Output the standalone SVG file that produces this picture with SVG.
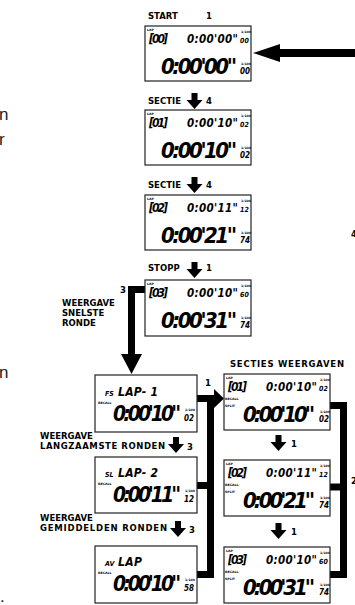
<svg xmlns="http://www.w3.org/2000/svg" width="355" height="605" viewBox="0 0 355 605">
<defs>
<style>
.bg{fill:#fff}
.box{fill:#fff;stroke:#222;stroke-width:1.2}
.lbl{font-family:"DejaVu Sans",sans-serif;font-weight:bold;font-size:8.5px;fill:#000}
.lcd{font-family:"DejaVu Sans Condensed","DejaVu Sans",sans-serif;font-weight:bold;font-style:italic;fill:#000}
.tiny{font-family:"DejaVu Sans",sans-serif;font-weight:bold;font-size:3.2px;fill:#000}
.frag{font-family:"Liberation Sans",Arial,sans-serif;font-size:17px;fill:#222}
.wire{fill:none;stroke:#000;stroke-width:7}
.head{fill:#000}
</style>
<path id="dn" d="M-3,0 H3 V7 H8 L0,16 L-8,7 H-3 Z" fill="#000"/>
</defs>
<rect class="bg" x="0" y="0" width="355" height="605"/>

<!-- stray text fragments at the edges -->
<text class="frag" x="-1" y="120">n</text>
<text class="frag" x="-1" y="145">r</text>
<text class="frag" x="-1" y="378">n</text>
<text class="frag" x="0" y="602">.</text>
<text class="lbl" x="351" y="237">4</text>
<text class="lbl" x="351" y="484">2</text>

<!-- labels -->
<g id="labels">
<text class="lbl" x="148" y="19">START</text><text class="lbl" x="206" y="19">1</text>
<text class="lbl" x="148" y="104">SECTIE</text><text class="lbl" x="206" y="104">4</text>
<text class="lbl" x="148" y="188">SECTIE</text><text class="lbl" x="206" y="188">4</text>
<text class="lbl" x="148" y="271">STOPP</text><text class="lbl" x="206" y="271">1</text>
<text class="lbl" x="126" y="293" text-anchor="end">3</text>
<text class="lbl" x="62" y="306">WEERGAVE</text>
<text class="lbl" x="62" y="316">SNELSTE</text>
<text class="lbl" x="62" y="326">RONDE</text>
<text class="lbl" x="230" y="367" textLength="114">SECTIES WEERGAVEN</text>
<text class="lbl" x="205" y="386">1</text>
<text class="lbl" x="40" y="439">WEERGAVE</text>
<text class="lbl" x="40" y="449" textLength="125">LANGZAAMSTE RONDEN</text>
<text class="lbl" x="187" y="450">3</text>
<text class="lbl" x="40" y="521">WEERGAVE</text>
<text class="lbl" x="40" y="531" textLength="127">GEMIDDELDEN RONDEN</text>
<text class="lbl" x="189" y="533">3</text>
<text class="lbl" x="291" y="447">1</text>
<text class="lbl" x="291" y="535">1</text>
</g>

<!-- connectors -->
<g id="connectors">
<polygon class="head" points="253,53 280,44 280,49 355,49 355,57 280,57 280,62"/>
<use href="#dn" x="194.5" y="93"/>
<use href="#dn" x="194.5" y="177"/>
<use href="#dn" x="194.5" y="262"/>
<use href="#dn" x="176" y="437"/>
<use href="#dn" x="178" y="521"/>
<use href="#dn" x="278.5" y="435"/>
<use href="#dn" x="278.5" y="523"/>
<path class="wire" d="M145,289.5 H131.5 V355"/>
<polygon class="head" points="121,354 142,354 131.5,374"/>
<path class="wire" d="M197,398.5 H215 M210.5,395 V578 M197,485.5 H214 M197,574.5 H214"/>
<polygon class="head" points="214,389 224,398.5 214,408"/>
<path class="wire" d="M330,405.5 H347 M343.5,402 V578 M330,487 H347 M330,574.5 H347"/>
</g>

<!-- main column -->
<g id="box1" transform="translate(145,26)">
<rect class="box" x="0" y="0" width="106" height="55"/>
<text class="tiny" x="2" y="5">LAP</text>
<text class="lcd" x="4" y="17" font-size="12" textLength="19">[00]</text>
<text class="lcd" x="42" y="17" font-size="11.5" textLength="51">0:00'00"</text>
<text class="tiny" x="96" y="7">1/100</text>
<text class="lcd" x="95" y="17" font-size="7">00</text>
<text class="lcd" x="16" y="48" font-size="22" textLength="76">0:00'00"</text>
<text class="tiny" x="96" y="39">1/100</text>
<text class="lcd" x="95" y="48" font-size="8">00</text>
</g>
<g id="box2" transform="translate(145,110)">
<rect class="box" x="0" y="0" width="106" height="55"/>
<text class="tiny" x="2" y="5">LAP</text>
<text class="lcd" x="4" y="17" font-size="12" textLength="19">[01]</text>
<text class="lcd" x="42" y="17" font-size="11.5" textLength="51">0:00'10"</text>
<text class="tiny" x="96" y="7">1/100</text>
<text class="lcd" x="95" y="17" font-size="7">02</text>
<text class="lcd" x="16" y="48" font-size="22" textLength="76">0:00'10"</text>
<text class="tiny" x="96" y="39">1/100</text>
<text class="lcd" x="95" y="48" font-size="8">02</text>
</g>
<g id="box3" transform="translate(145,195)">
<rect class="box" x="0" y="0" width="106" height="55"/>
<text class="tiny" x="2" y="5">LAP</text>
<text class="lcd" x="4" y="17" font-size="12" textLength="19">[02]</text>
<text class="lcd" x="42" y="17" font-size="11.5" textLength="51">0:00'11"</text>
<text class="tiny" x="96" y="7">1/100</text>
<text class="lcd" x="95" y="17" font-size="7">12</text>
<text class="lcd" x="16" y="48" font-size="22" textLength="76">0:00'21"</text>
<text class="tiny" x="96" y="39">1/100</text>
<text class="lcd" x="95" y="48" font-size="8">74</text>
</g>
<g id="box4" transform="translate(145,280)">
<rect class="box" x="0" y="0" width="106" height="56"/>
<text class="tiny" x="2" y="5">LAP</text>
<text class="lcd" x="4" y="17" font-size="12" textLength="19">[03]</text>
<text class="lcd" x="42" y="17" font-size="11.5" textLength="51">0:00'10"</text>
<text class="tiny" x="96" y="7">1/100</text>
<text class="lcd" x="95" y="17" font-size="7">60</text>
<text class="lcd" x="16" y="48" font-size="22" textLength="76">0:00'31"</text>
<text class="tiny" x="96" y="39">1/100</text>
<text class="lcd" x="95" y="48" font-size="8">74</text>
</g>

<!-- recall column -->
<g id="fs" transform="translate(95,375)">
<rect class="box" x="0" y="0" width="102" height="57"/>
<text class="lcd" x="10" y="21" font-size="7">FS</text>
<text class="lcd" x="23" y="21" font-size="12" textLength="40">LAP- 1</text>
<text class="tiny" x="3" y="29">RECALL</text>
<text class="lcd" x="18" y="46" font-size="21" textLength="68">0:00'10"</text>
<text class="tiny" x="90" y="36">1/100</text>
<text class="lcd" x="89" y="46" font-size="8">02</text>
</g>
<g id="sl" transform="translate(95,457)">
<rect class="box" x="0" y="0" width="102" height="56"/>
<text class="lcd" x="10" y="20" font-size="7">SL</text>
<text class="lcd" x="23" y="20" font-size="12" textLength="40">LAP- 2</text>
<text class="tiny" x="3" y="28">RECALL</text>
<text class="lcd" x="18" y="45" font-size="21" textLength="68">0:00'11"</text>
<text class="tiny" x="90" y="35">1/100</text>
<text class="lcd" x="89" y="45" font-size="8">12</text>
</g>
<g id="av" transform="translate(95,546)">
<rect class="box" x="0" y="0" width="102" height="57"/>
<text class="lcd" x="10" y="20" font-size="7">AV</text>
<text class="lcd" x="23" y="20" font-size="12" textLength="24">LAP</text>
<text class="tiny" x="3" y="28">RECALL</text>
<text class="lcd" x="18" y="45" font-size="21" textLength="68">0:00'10"</text>
<text class="tiny" x="90" y="35">1/100</text>
<text class="lcd" x="89" y="45" font-size="8">58</text>
</g>

<!-- section column -->
<g id="r1" transform="translate(224,374)">
<rect class="box" x="0" y="0" width="106" height="56"/>
<text class="tiny" x="2" y="5">LAP</text>
<text class="lcd" x="4" y="17" font-size="12" textLength="19">[01]</text>
<text class="lcd" x="42" y="17" font-size="11.5" textLength="51">0:00'10"</text>
<text class="tiny" x="96" y="7">1/100</text>
<text class="lcd" x="95" y="17" font-size="7">02</text>
<text class="tiny" x="1" y="26">RECALL</text>
<text class="tiny" x="1" y="33">SPLIT</text>
<text class="lcd" x="19" y="48" font-size="22" textLength="72">0:00'10"</text>
<text class="tiny" x="96" y="39">1/100</text>
<text class="lcd" x="95" y="48" font-size="8">02</text>
</g>
<g id="r2" transform="translate(224,460)">
<rect class="box" x="0" y="0" width="106" height="56"/>
<text class="tiny" x="2" y="5">LAP</text>
<text class="lcd" x="4" y="17" font-size="12" textLength="19">[02]</text>
<text class="lcd" x="42" y="17" font-size="11.5" textLength="51">0:00'11"</text>
<text class="tiny" x="96" y="7">1/100</text>
<text class="lcd" x="95" y="17" font-size="7">12</text>
<text class="tiny" x="1" y="26">RECALL</text>
<text class="tiny" x="1" y="33">SPLIT</text>
<text class="lcd" x="19" y="48" font-size="22" textLength="72">0:00'21"</text>
<text class="tiny" x="96" y="39">1/100</text>
<text class="lcd" x="95" y="48" font-size="8">74</text>
</g>
<g id="r3" transform="translate(224,547)">
<rect class="box" x="0" y="0" width="106" height="56"/>
<text class="tiny" x="2" y="5">LAP</text>
<text class="lcd" x="4" y="17" font-size="12" textLength="19">[03]</text>
<text class="lcd" x="42" y="17" font-size="11.5" textLength="51">0:00'10"</text>
<text class="tiny" x="96" y="7">1/100</text>
<text class="lcd" x="95" y="17" font-size="7">60</text>
<text class="tiny" x="1" y="26">RECALL</text>
<text class="tiny" x="1" y="33">SPLIT</text>
<text class="lcd" x="19" y="48" font-size="22" textLength="72">0:00'31"</text>
<text class="tiny" x="96" y="39">1/100</text>
<text class="lcd" x="95" y="48" font-size="8">74</text>
</g>
</svg>
